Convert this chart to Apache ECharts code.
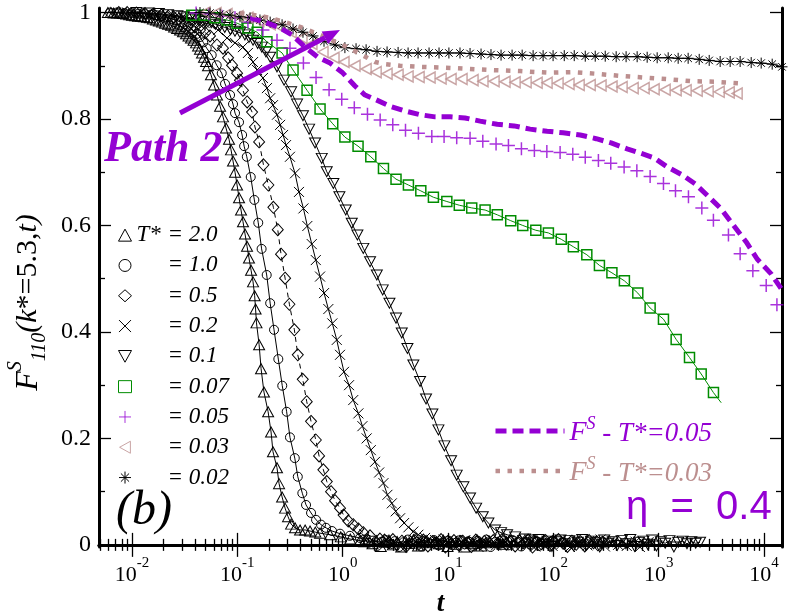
<!DOCTYPE html>
<html>
<head>
<meta charset="utf-8">
<script src="https://cdn.jsdelivr.net/npm/echarts@6/dist/echarts.min.js"></script>
<style>
  html, body { margin: 0; padding: 0; background: #fff; }
  #chart { width: 792px; height: 612px; }
</style>
</head>
<body>
<div id="chart"></div>
<script>
// axis ranges (t on log scale, F on linear scale)
const xRange = [0.00486, 14830];
const yRange = [-0.004, 1.0085];
const xMajor = [0.01, 0.1, 1, 10, 100, 1000, 10000];
const yMajor = [0, 0.2, 0.4, 0.6, 0.8, 1];
const yMinor = [0.1, 0.3, 0.5, 0.7, 0.9];

// [t, F] pairs
const tri20 = [[0.0059,1.0],[0.0067,0.999],[0.0077,0.999],[0.0088,0.997],[0.010,0.995],[0.0114,0.993],[0.013,0.992],[0.0148,0.990],[0.0169,0.986],[0.0193,0.982],[0.022,0.978],[0.0251,0.973],[0.0286,0.967],[0.0326,0.960],[0.0363,0.952],[0.0406,0.943],[0.0442,0.931],[0.0483,0.916],[0.0527,0.900],[0.0562,0.883],[0.0601,0.864],[0.0641,0.845],[0.0686,0.824],[0.0731,0.804],[0.0781,0.783],[0.0834,0.762],[0.0871,0.742],[0.091,0.721],[0.0951,0.700],[0.0994,0.676],[0.1038,0.652],[0.1084,0.629],[0.1132,0.607],[0.1183,0.584],[0.1236,0.561],[0.129,0.539],[0.135,0.516],[0.141,0.494],[0.146,0.468],[0.149,0.443],[0.152,0.417],[0.161,0.376],[0.168,0.331],[0.179,0.287],[0.196,0.250],[0.209,0.212],[0.218,0.175],[0.238,0.145],[0.249,0.115],[0.266,0.090],[0.284,0.069],[0.303,0.053],[0.324,0.039],[0.353,0.032],[0.394,0.028],[0.44,0.028],[0.49,0.026],[0.55,0.024],[0.61,0.022],[0.76,0.019],[0.96,0.015],[1.18,0.011],[1.46,0.008]];
const tri20Early = [[0.0063,1.0],[0.0072,0.999],[0.0082,0.998],[0.0094,0.996],[0.0107,0.994],[0.0122,0.993],[0.0139,0.991],[0.0158,0.988],[0.018,0.984],[0.0206,0.980],[0.0235,0.976],[0.0268,0.970],[0.0305,0.964],[0.0344,0.956],[0.0384,0.948],[0.0424,0.937],[0.0462,0.924],[0.0505,0.908]];
const tri20Tail = [[1.6,0.006],[1.75,0.010],[1.92,0.002],[2.1,0.008],[2.3,-0.003],[2.5,0.005],[2.75,0.009],[3.0,0.000],[3.3,0.006],[3.6,-0.004],[3.95,0.007],[4.3,0.003],[4.7,0.010],[5.2,-0.002],[5.7,0.004],[6.2,0.008],[6.8,-0.005],[7.5,0.006],[8.2,0.002],[9.0,0.009],[9.9,-0.003],[10.8,0.005],[11.9,0.001],[13,0.008],[14.3,-0.004],[15.7,0.006],[17.2,0.003],[18.9,0.009],[20.7,-0.002],[22.7,0.004],[24.9,0.007],[27.3,-0.005],[30,0.005],[33,0.001],[36,0.006]];

const circ10 = [[0.0062,1.0],[0.0085,0.999],[0.0115,0.998],[0.015,0.996],[0.019,0.993],[0.024,0.988],[0.029,0.982],[0.034,0.974],[0.039,0.965],[0.0442,0.954],[0.0512,0.933],[0.0571,0.920],[0.0637,0.901],[0.0711,0.886],[0.0764,0.866],[0.0853,0.845],[0.091,0.828],[0.0951,0.811],[0.1038,0.794],[0.111,0.770],[0.116,0.749],[0.123,0.729],[0.134,0.691],[0.145,0.648],[0.158,0.605],[0.170,0.556],[0.190,0.507],[0.205,0.454],[0.223,0.404],[0.245,0.349],[0.267,0.299],[0.294,0.250],[0.316,0.202],[0.351,0.163],[0.375,0.128],[0.414,0.097],[0.449,0.075],[0.501,0.060],[0.559,0.047],[0.623,0.038],[0.695,0.032],[0.793,0.026],[0.944,0.021],[1.17,0.017],[1.46,0.013]];
const circ10Early = [[0.0072,1.0],[0.0098,0.999],[0.0132,0.997],[0.017,0.995],[0.0215,0.991],[0.0265,0.985],[0.0315,0.978],[0.0365,0.970],[0.0415,0.960],[0.0475,0.944]];
const circ10Tail = [[1.6,0.010],[1.76,0.004],[1.94,0.008],[2.13,-0.002],[2.35,0.006],[2.58,0.009],[2.84,0.001],[3.12,0.007],[3.43,-0.004],[3.78,0.005],[4.16,0.010],[4.57,0.002],[5.03,0.006],[5.53,-0.003],[6.09,0.008],[6.7,0.003],[7.37,0.009],[8.1,-0.001],[8.9,0.005],[9.8,0.007],[10.8,-0.005],[11.9,0.004],[13.1,0.009],[14.4,0.001],[15.8,0.006],[17.4,-0.002],[19.1,0.008],[21,0.003],[23.1,0.010],[25.4,-0.004],[28,0.005],[30.8,0.002],[33.9,0.007],[37.3,-0.001],[41,0.009],[45,0.004],[49.6,-0.003],[54.6,0.006],[60,0.001],[66,0.008],[72.6,-0.002],[80,0.005],[88,0.003],[97,0.007]];

const dia05 = [[0.0075,1.0],[0.011,0.999],[0.016,0.997],[0.022,0.993],[0.028,0.988],[0.035,0.979],[0.0442,0.967],[0.055,0.956],[0.0641,0.939],[0.0731,0.933],[0.0817,0.915],[0.0891,0.901],[0.0994,0.886],[0.106,0.873],[0.113,0.854],[0.124,0.832],[0.138,0.813],[0.147,0.785],[0.161,0.757],[0.177,0.714],[0.197,0.676],[0.22,0.634],[0.242,0.592],[0.26,0.546],[0.284,0.501],[0.312,0.452],[0.348,0.404],[0.375,0.357],[0.418,0.311],[0.456,0.269],[0.501,0.232],[0.556,0.197],[0.597,0.167],[0.656,0.141],[0.707,0.119],[0.776,0.100],[0.847,0.083],[0.944,0.069],[1.02,0.056],[1.13,0.045],[1.26,0.038],[1.41,0.030],[1.57,0.023],[1.82,0.017],[2.26,0.011]];
const dia05Early = [[0.009,1.0],[0.0133,0.998],[0.019,0.995],[0.025,0.991],[0.0315,0.984],[0.0395,0.973],[0.0495,0.962]];
const dia05Tail = [[2.5,0.009],[2.75,0.004],[3.0,0.010],[3.3,0.001],[3.65,0.007],[4.0,-0.003],[4.4,0.005],[4.85,0.008],[5.3,0.002],[5.85,0.009],[6.45,-0.002],[7.1,0.006],[7.8,0.003],[8.6,0.010],[9.45,-0.004],[10.4,0.005],[11.4,0.008],[12.6,0.000],[13.8,0.007],[15.2,0.004],[16.7,-0.003],[18.4,0.009],[20.2,0.002],[22.2,0.006],[24.5,-0.005],[26.9,0.008],[29.6,0.003],[32.6,0.010],[35.8,0.001],[39.4,0.005],[43.4,-0.002],[47.7,0.007],[52.5,0.004],[57.7,0.009],[63.5,-0.004],[69.8,0.006],[76.8,0.002],[84.5,0.008],[93,-0.001],[102,0.005],[112,0.010],[124,0.003],[136,-0.003],[150,0.007],[165,0.001],[181,0.006],[199,-0.002],[219,0.008],[241,0.004],[265,0.000],[292,0.005]];

const crs02 = [[0.009,1.0],[0.014,0.998],[0.02,0.995],[0.028,0.991],[0.036,0.987],[0.0442,0.982],[0.055,0.978],[0.0656,0.967],[0.0798,0.952],[0.0951,0.943],[0.113,0.935],[0.126,0.924],[0.141,0.907],[0.154,0.892],[0.175,0.877],[0.191,0.858],[0.205,0.839],[0.218,0.826],[0.238,0.808],[0.255,0.789],[0.272,0.770],[0.29,0.751],[0.316,0.729],[0.353,0.698],[0.385,0.663],[0.424,0.632],[0.462,0.599],[0.509,0.565],[0.556,0.535],[0.61,0.504],[0.666,0.473],[0.731,0.443],[0.798,0.416],[0.879,0.385],[0.944,0.357],[1.03,0.325],[1.15,0.300],[1.26,0.272],[1.41,0.247],[1.54,0.223],[1.69,0.200],[1.85,0.178],[2.03,0.156],[2.22,0.136],[2.44,0.116],[2.66,0.094],[2.93,0.078],[3.19,0.063],[3.51,0.050],[3.83,0.041],[4.21,0.033],[4.69,0.025],[5.23,0.019],[6.06,0.013],[7.54,0.009]];
const crs02Early = [[0.0115,0.999],[0.017,0.997],[0.024,0.993],[0.032,0.989],[0.040,0.985],[0.049,0.980]];
const crs02Tail = [[8.3,0.006],[9.1,0.010],[10,0.002],[11,0.008],[12.1,-0.003],[13.3,0.005],[14.6,0.009],[16.1,0.001],[17.7,0.007],[19.5,-0.004],[21.4,0.006],[23.6,0.003],[25.9,0.010],[28.5,-0.001],[31.4,0.005],[34.5,0.008],[38,-0.005],[41.8,0.007],[46,0.002],[50.6,0.009],[55.6,0.000],[61.2,0.006],[67.3,-0.003],[74,0.008],[81.4,0.004],[89.6,0.010],[98.5,-0.002],[108,0.005],[119,0.001],[131,0.007],[144,-0.004],[159,0.009],[175,0.003],[192,0.006],[211,-0.001],[232,0.008],[256,0.002],[281,0.010],[309,-0.003],[340,0.005],[374,0.007],[412,0.000],[453,0.009],[498,-0.002],[548,0.004],[603,0.006],[663,-0.004],[729,0.003],[802,0.005]];

const tdn01 = [[0.011,1.0],[0.018,0.998],[0.027,0.994],[0.036,0.990],[0.0442,0.986],[0.0686,0.975],[0.106,0.962],[0.141,0.948],[0.171,0.935],[0.205,0.916],[0.238,0.898],[0.278,0.873],[0.324,0.851],[0.369,0.828],[0.42,0.806],[0.48,0.781],[0.547,0.755],[0.633,0.726],[0.706,0.701],[0.816,0.679],[0.931,0.654],[1.07,0.629],[1.22,0.604],[1.38,0.582],[1.57,0.557],[1.82,0.532],[2.11,0.507],[2.40,0.479],[2.78,0.454],[3.21,0.426],[3.64,0.398],[4.12,0.369],[4.69,0.338],[5.43,0.307],[6.19,0.274],[7.11,0.246],[8.11,0.216],[9.25,0.186],[10.7,0.158],[12.1,0.131],[14.0,0.109],[16.2,0.088],[18.5,0.069],[21.4,0.053],[24.2,0.041],[28.0,0.028],[31.9,0.023],[36.4,0.019],[43.4,0.015],[53.9,0.011]];
const tdn01Early = [[0.0145,0.999],[0.022,0.996],[0.031,0.992],[0.040,0.988],[0.050,0.983],[0.0565,0.981],[0.062,0.978],[0.076,0.972],[0.086,0.968],[0.095,0.965],[0.118,0.958],[0.129,0.953],[0.156,0.942],[0.187,0.926]];
const tdn01Tail = [[60,0.009],[66,0.004],[72.6,0.010],[80,0.001],[88,0.007],[97,-0.003],[106,0.006],[117,0.009],[129,0.002],[142,0.008],[156,-0.002],[171,0.005],[188,0.010],[207,0.000],[228,0.007],[251,0.004],[276,-0.004],[304,0.009],[334,0.003],[367,0.006],[404,-0.001],[445,0.008],[489,0.002],[538,0.010],[592,-0.003],[651,0.005],[716,0.007],[788,0.001],[867,0.009],[953,-0.002],[1049,0.006],[1154,0.003],[1269,0.008],[1396,-0.004],[1536,0.005],[1689,0.007],[1858,0.002],[2044,0.006],[2248,0.003],[2473,0.005]];

const sq007 = [[0.0369,0.995],[0.0483,0.995],[0.0614,0.990],[0.0798,0.986],[0.0994,0.980],[0.126,0.971],[0.154,0.963],[0.191,0.945],[0.266,0.924],[0.338,0.892],[0.459,0.854],[0.61,0.819],[0.805,0.791],[1.05,0.766],[1.40,0.749],[1.85,0.729],[2.44,0.707],[3.21,0.687],[4.21,0.676],[5.52,0.665],[7.27,0.653],[9.75,0.645],[12.8,0.638],[16.8,0.633],[22.5,0.629],[29.4,0.620],[39.4,0.609],[51.3,0.600],[68.2,0.591],[89.8,0.586],[119,0.574],[155,0.560],[208,0.545],[274,0.525],[360,0.511],[473,0.496],[634,0.473],[830,0.445],[1111,0.424],[1466,0.386],[1963,0.352],[2535,0.321],[3315,0.286]];
const sq007Tail = [[3315,0.286],[3926,0.267]];
const plus005 = [[0.0406,0.999],[0.0538,0.997],[0.0716,0.993],[0.0951,0.990],[0.126,0.982],[0.175,0.967],[0.238,0.948],[0.316,0.933],[0.424,0.905],[0.559,0.878],[0.743,0.855],[0.98,0.837],[1.29,0.821],[1.72,0.809],[2.27,0.798],[2.99,0.789],[3.95,0.779],[5.24,0.773],[7.02,0.767],[9.18,0.767],[12.1,0.765],[16.2,0.764],[21.4,0.758],[28.6,0.753],[37.5,0.750],[49.8,0.744],[66.1,0.741],[86.8,0.739],[116,0.737],[153,0.734],[201,0.728],[268,0.722],[351,0.717],[470,0.710],[621,0.703],[830,0.692],[1111,0.679],[1445,0.665],[1919,0.654],[2570,0.633],[3311,0.610],[4600,0.582],[5940,0.547],[7840,0.515],[10500,0.487],[13270,0.451]];
const left003 = [[0.0494,1.0],[0.0628,0.999],[0.0798,0.997],[0.1016,0.993],[0.126,0.990],[0.16,0.984],[0.205,0.978],[0.255,0.973],[0.324,0.963],[0.411,0.952],[0.511,0.941],[0.651,0.926],[0.828,0.915],[1.03,0.907],[1.31,0.900],[1.67,0.894],[2.08,0.888],[2.64,0.885],[3.36,0.883],[4.18,0.880],[5.32,0.879],[6.76,0.878],[8.6,0.876],[10.7,0.875],[13.6,0.875],[17.3,0.873],[21.5,0.871],[27.4,0.871],[34.8,0.870],[43.4,0.869],[55.2,0.869],[70.2,0.868],[87.3,0.868],[111,0.867],[141,0.866],[176,0.864],[224,0.864],[284,0.863],[361,0.861],[450,0.860],[573,0.858],[728,0.858],[906,0.856],[1153,0.855],[1466,0.854],[1824,0.854],[2322,0.853],[2951,0.852],[3756,0.851],[4677,0.850],[5564,0.848]];
const star002 = [[0.0442,1.0],[0.055,0.999],[0.0686,0.997],[0.0853,0.995],[0.106,0.992],[0.132,0.990],[0.164,0.986],[0.205,0.982],[0.266,0.977],[0.338,0.969],[0.42,0.963],[0.523,0.956],[0.665,0.946],[0.847,0.939],[1.05,0.934],[1.34,0.932],[1.67,0.930],[2.12,0.927],[2.64,0.926],[3.36,0.925],[4.18,0.924],[5.2,0.924],[6.61,0.924],[8.22,0.924],[10.2,0.924],[13.0,0.924],[16.2,0.923],[20.6,0.922],[25.6,0.921],[31.9,0.920],[40.6,0.920],[50.6,0.920],[64.3,0.919],[80.0,0.919],[99.5,0.919],[127,0.919],[158,0.919],[201,0.918],[250,0.918],[311,0.918],[395,0.917],[491,0.917],[625,0.917],[778,0.916],[968,0.915],[1232,0.915],[1532,0.914],[1906,0.914],[2427,0.912],[3020,0.910],[3838,0.908],[4775,0.908],[5940,0.908],[7563,0.906],[9410,0.905],[11970,0.903],[14830,0.898]];
const fs005 = [[0.132,0.990],[0.183,0.982],[0.255,0.971],[0.33,0.958],[0.44,0.935],[0.583,0.916],[0.759,0.905],[0.986,0.888],[1.31,0.862],[1.63,0.845],[2.08,0.836],[2.82,0.824],[3.92,0.815],[5.43,0.808],[7.54,0.804],[10.5,0.804],[14.5,0.802],[20.2,0.796],[29.3,0.790],[42.4,0.787],[60.2,0.781],[87.3,0.777],[124,0.774],[180,0.770],[255,0.763],[354,0.755],[502,0.744],[667,0.736],[906,0.727],[1205,0.710],[1671,0.695],[2222,0.678],[2951,0.655],[3926,0.631],[5105,0.601],[6780,0.569],[8615,0.537],[11700,0.509],[14830,0.479]];
const fs003 = [[0.106,0.999],[0.147,0.995],[0.205,0.990],[0.284,0.982],[0.394,0.973],[0.61,0.958],[0.944,0.941],[1.17,0.933],[1.40,0.924],[1.71,0.915],[2.03,0.907],[2.53,0.903],[3.51,0.900],[5.43,0.898],[10.5,0.896],[25.1,0.892],[48.4,0.890],[89.3,0.887],[151,0.888],[255,0.885],[431,0.881],[713,0.878],[1205,0.875],[2037,0.871],[3443,0.870],[5824,0.867]];

const BLACK = '#000', GREEN = '#008c00', PURPLE = '#9400d3', BROWN = '#bc8f8f';
const SERIF = 'Liberation Serif';
const HOLLOW = 'rgba(0,0,0,0)';

const SYM = {
  triUp: 'triangle',
  circle: 'circle',
  diamond: 'diamond',
  cross: 'path://M0,0L10,10M10,0L0,10',
  triDown: 'path://M0,0L10,0L5,9Z',
  square: 'rect',
  plus: 'path://M5,0L5,10M0,5L10,5',
  triLeft: 'path://M0,5L9,0L9,10Z',
  star: 'path://M5,0L5,10M0,5L10,5M1.6,1.6L8.4,8.4M8.4,1.6L1.6,8.4'
};

const byTime = (a, b) => a[0] - b[0];
const joinPts = (...parts) => [].concat(...parts).sort(byTime);

// marker series: name, data, symbol, size, colour, line style (null = no line), legend text
const markerDefs = [
  ['T*=2.0', joinPts(tri20Early, tri20, tri20Tail), SYM.triUp, [11, 10], BLACK, { width: 1 }, '{w|T*}{v|= 2.0}'],
  ['T*=1.0', joinPts(circ10Early, circ10, circ10Tail), SYM.circle, 9, BLACK, { width: 1 }, '{w| }{v|= 1.0}'],
  ['T*=0.5', joinPts(dia05Early, dia05, dia05Tail), SYM.diamond, [11, 12], BLACK, { width: 1, type: [5, 4] }, '{w| }{v|= 0.5}'],
  ['T*=0.2', joinPts(crs02Early, crs02, crs02Tail), SYM.cross, 10, BLACK, { width: 1 }, '{w| }{v|= 0.2}'],
  ['T*=0.1', joinPts(tdn01Early, tdn01, tdn01Tail), SYM.triDown, [11, 10], BLACK, { width: 1 }, '{w| }{v|= 0.1}'],
  ['T*=0.07', sq007, SYM.square, 10, GREEN, { width: 1 }, '{w| }{v|= 0.07}'],
  ['T*=0.05', plus005, SYM.plus, 13, PURPLE, null, '{w| }{v|= 0.05}'],
  ['T*=0.03', left003, SYM.triLeft, [10, 11], BROWN, null, '{w| }{v|= 0.03}'],
  ['T*=0.02', star002, SYM.star, 11, BLACK, { width: 1 }, '{w| }{v|= 0.02}']
];
const legendText = {};
markerDefs.forEach(d => { legendText[d[0]] = d[6]; });
legendText['FS 0.05'] = '{f|F}{s|S}{v| - T*=0.05}';
legendText['FS 0.03'] = '{f|F}{s|S}{v| - T*=0.03}';

const minorTicks = [];
for (let n = -3; n <= 4; n++) {
  for (let k = 2; k <= 9; k++) {
    const v = k * Math.pow(10, n);
    if (v > xRange[0] && v < xRange[1]) minorTicks.push(v);
  }
}

const series = markerDefs.map(d => ({
  name: d[0],
  type: d[5] ? 'line' : 'scatter',
  data: d[1],
  symbol: d[2],
  symbolSize: d[3],
  showSymbol: true,
  showAllSymbol: true,
  silent: true,
  itemStyle: { color: HOLLOW, borderColor: d[4], borderWidth: d[4] === BLACK ? 1 : 1.5 },
  lineStyle: d[5] ? Object.assign({ color: d[4] }, d[5]) : undefined,
  z: 3
}));
// last stretch of the green line, beyond its final marker
series.push({
  type: 'line', data: sq007Tail, showSymbol: false, silent: true,
  lineStyle: { color: GREEN, width: 1 }, z: 3
});
const fsLine05 = { color: PURPLE, width: 5, type: [11, 6], cap: 'butt' };
const fsLine03 = { color: BROWN, width: 4.5, type: [4.5, 7.5], cap: 'butt' };
series.push({
  name: 'FS 0.05', type: 'line', data: fs005, showSymbol: false, silent: true,
  itemStyle: { color: PURPLE }, lineStyle: fsLine05, z: 4
});
series.push({
  name: 'FS 0.03', type: 'line', data: fs003, showSymbol: false, silent: true,
  itemStyle: { color: BROWN }, lineStyle: fsLine03, z: 4
});

function xAxisDef(position, ticks, len, labels) {
  return {
    type: 'log', position: position, min: xRange[0], max: xRange[1], logBase: 10,
    axisLine: { show: len > 8, lineStyle: { color: BLACK, width: 3 } },
    axisTick: { inside: true, length: len, customValues: ticks, lineStyle: { color: BLACK, width: 1.3 } },
    axisLabel: labels ? {
      customValues: ticks, margin: 9, color: BLACK, fontFamily: SERIF,
      formatter: v => '{b|10}{s|' + Math.round(Math.log10(v)) + '}',
      rich: {
        b: { fontFamily: SERIF, fontSize: 22, lineHeight: 30, verticalAlign: 'bottom', color: BLACK },
        s: { fontFamily: SERIF, fontSize: 15, lineHeight: 15, verticalAlign: 'top', color: BLACK }
      }
    } : { show: false },
    splitLine: { show: false }
  };
}
function yAxisDef(position, ticks, len, labels) {
  return {
    type: 'value', position: position, min: yRange[0], max: yRange[1],
    axisLine: { show: len > 8, lineStyle: { color: BLACK, width: 3 } },
    axisTick: { inside: true, length: len, customValues: ticks, lineStyle: { color: BLACK, width: 1.3 } },
    axisLabel: labels ? { customValues: ticks, margin: 8, color: BLACK, fontFamily: SERIF, fontSize: 24 } : { show: false },
    splitLine: { show: false }
  };
}

const xAxes = [
  xAxisDef('bottom', xMajor, 12, true),
  xAxisDef('bottom', minorTicks, 6, false),
  xAxisDef('top', xMajor, 12, false),
  xAxisDef('top', minorTicks, 6, false)
];
xAxes[0].name = 't';
xAxes[0].nameLocation = 'middle';
xAxes[0].nameGap = 28;
xAxes[0].nameTextStyle = { fontFamily: SERIF, fontStyle: 'italic', fontWeight: 'bold', fontSize: 27, color: BLACK };

const yAxes = [
  yAxisDef('left', yMajor, 12, true),
  yAxisDef('left', yMinor, 6, false),
  yAxisDef('right', yMajor, 12, false),
  yAxisDef('right', yMinor, 6, false)
];
yAxes[0].name = '{F|F}{S|S}{b|110}{p|(}{i|k}{n|*=5.3,}{i|t}{p|)}';
yAxes[0].nameLocation = 'middle';
yAxes[0].nameRotate = 90;
yAxes[0].nameGap = 46;
yAxes[0].nameTextStyle = {
  color: BLACK,
  padding: [0, 50, 0, 0],
  rich: {
    F: { fontFamily: SERIF, fontStyle: 'italic', fontSize: 32, lineHeight: 44, verticalAlign: 'middle', color: BLACK },
    S: { fontFamily: SERIF, fontStyle: 'italic', fontSize: 20, lineHeight: 20, verticalAlign: 'top', color: BLACK },
    b: { fontFamily: SERIF, fontStyle: 'italic', fontSize: 20, lineHeight: 20, verticalAlign: 'bottom', color: BLACK },
    p: { fontFamily: SERIF, fontStyle: 'italic', fontSize: 30, lineHeight: 44, verticalAlign: 'middle', color: BLACK },
    i: { fontFamily: SERIF, fontStyle: 'italic', fontSize: 30, lineHeight: 44, verticalAlign: 'middle', color: BLACK },
    n: { fontFamily: SERIF, fontSize: 30, lineHeight: 44, verticalAlign: 'middle', color: BLACK }
  }
};

// arrow of "Path 2"
const arrowTail = [180, 113], arrowTip = [340, 30];
const adx = arrowTip[0] - arrowTail[0], ady = arrowTip[1] - arrowTail[1];
const alen = Math.sqrt(adx * adx + ady * ady);
const ux = adx / alen, uy = ady / alen;
const headLen = 17, headHalf = 7;
const baseX = arrowTip[0] - ux * headLen, baseY = arrowTip[1] - uy * headLen;

const option = {
  animation: false,
  backgroundColor: '#fff',
  grid: { left: 99, right: 10, top: 8, bottom: 65, containLabel: false, outerBoundsMode: 'none' },
  xAxis: xAxes,
  yAxis: yAxes,
  legend: [
    {
      data: markerDefs.map(d => ({
        name: d[0],
        icon: d[2],
        itemStyle: { color: HOLLOW, borderColor: d[4], borderWidth: 1 }
      })),
      orient: 'vertical', left: 113, top: 215,
      itemWidth: 13, itemHeight: 12, itemGap: 0,
      selectedMode: false,
      formatter: name => legendText[name],
      textStyle: {
        fontFamily: SERIF, fontStyle: 'italic', fontSize: 23, color: BLACK, lineHeight: 30.3,
        rich: {
          w: { width: 31, fontFamily: SERIF, fontStyle: 'italic', fontSize: 23, color: BLACK },
          v: { fontFamily: SERIF, fontStyle: 'italic', fontSize: 23, color: BLACK }
        }
      }
    },
    {
      data: [
        { name: 'FS 0.05', itemStyle: { opacity: 0 }, lineStyle: fsLine05, textStyle: { color: PURPLE } },
        { name: 'FS 0.03', itemStyle: { opacity: 0 }, lineStyle: fsLine03, textStyle: { color: BROWN } }
      ],
      orient: 'vertical', left: 488, top: 410,
      itemWidth: 69, itemHeight: 30, itemGap: 8,
      selectedMode: false,
      formatter: name => legendText[name],
      textStyle: {
        fontFamily: SERIF, fontStyle: 'italic', fontSize: 27,
        rich: {
          f: { fontFamily: SERIF, fontStyle: 'italic', fontSize: 28, lineHeight: 32, verticalAlign: 'bottom' },
          s: { fontFamily: SERIF, fontStyle: 'italic', fontSize: 18, lineHeight: 17, verticalAlign: 'top' },
          v: { fontFamily: SERIF, fontStyle: 'italic', fontSize: 27, lineHeight: 32, verticalAlign: 'bottom' }
        }
      }
    }
  ],
  graphic: [
    {
      type: 'text', left: 104, top: 128, z: 100, silent: true,
      style: { text: 'Path 2', fontFamily: SERIF, fontStyle: 'italic', fontWeight: 'bold', fontSize: 44, fill: PURPLE }
    },
    {
      type: 'line', z: 100, silent: true,
      shape: { x1: arrowTail[0], y1: arrowTail[1], x2: baseX, y2: baseY },
      style: { stroke: PURPLE, lineWidth: 5 }
    },
    {
      type: 'polygon', z: 100, silent: true,
      shape: { points: [arrowTip, [baseX - uy * headHalf, baseY + ux * headHalf], [baseX + uy * headHalf, baseY - ux * headHalf]] },
      style: { fill: PURPLE }
    },
    {
      type: 'text', left: 116, top: 487, z: 100, silent: true,
      style: { text: '(b)', fontFamily: SERIF, fontStyle: 'italic', fontSize: 48, fill: BLACK }
    },
    {
      type: 'text', left: 626, top: 488, z: 100, silent: true,
      style: { text: 'η  =  0.4', fontFamily: 'Liberation Sans', fontSize: 40, fill: PURPLE }
    }
  ],
  series: series
};

const chart = echarts.init(document.getElementById('chart'), null, { renderer: 'canvas' });
chart.setOption(option);
</script>
</body>
</html>
